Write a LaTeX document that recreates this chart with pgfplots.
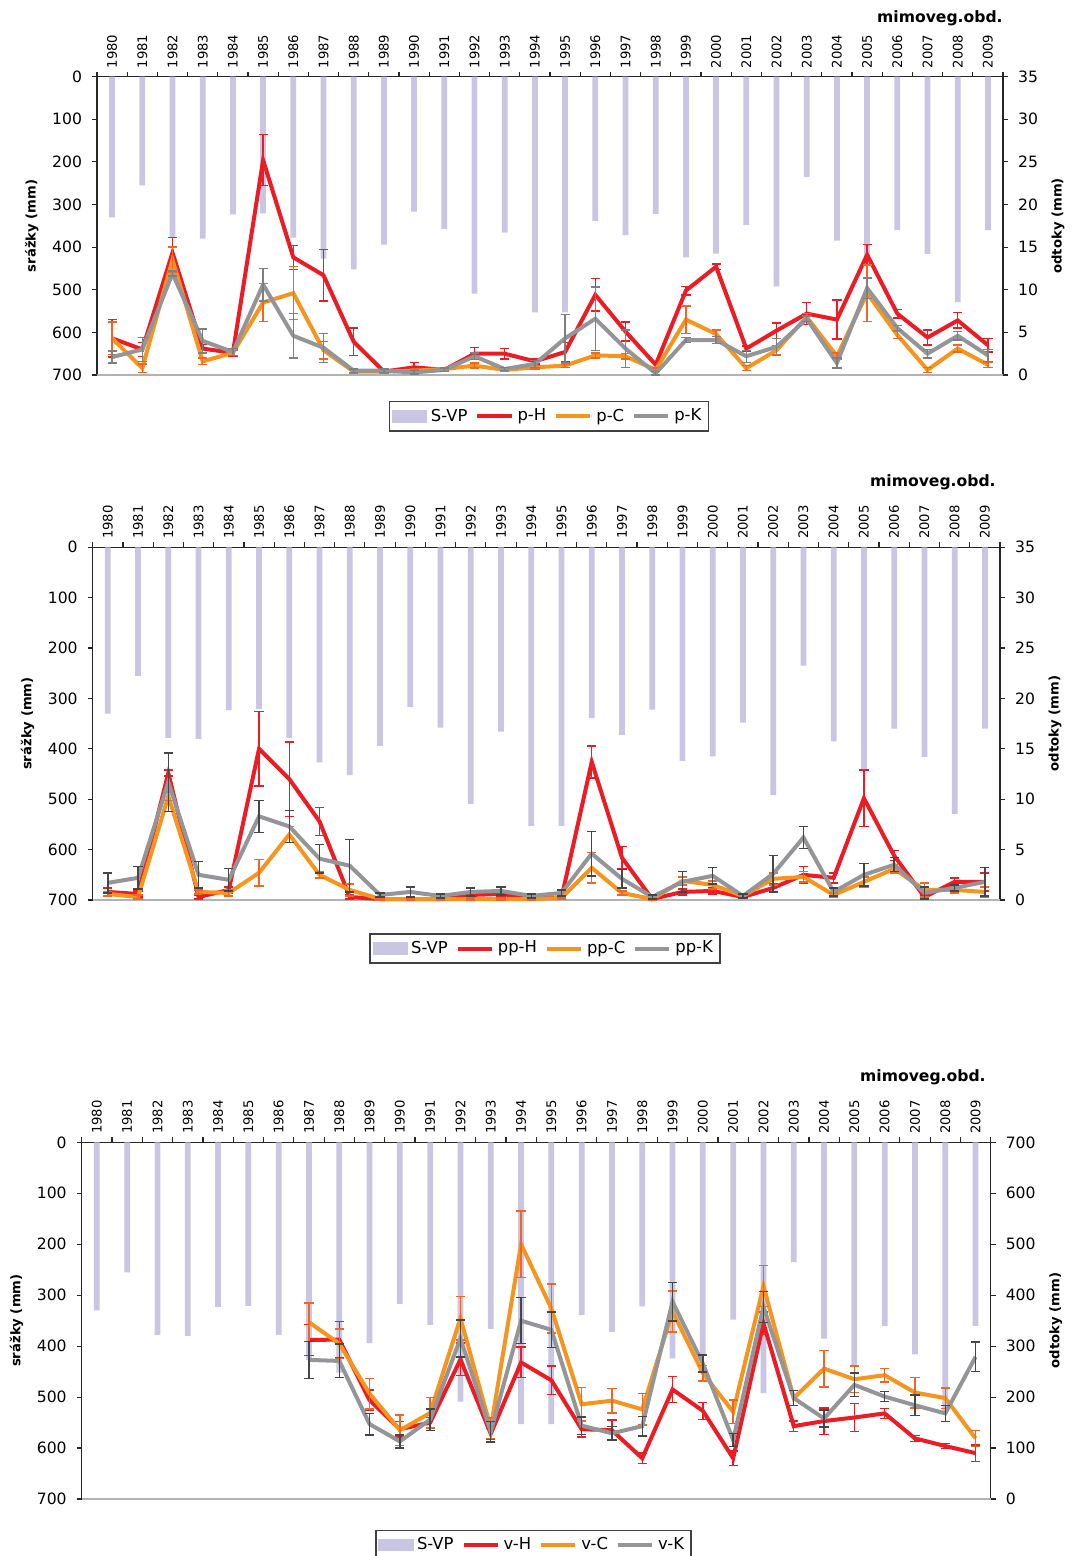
\documentclass[border=0pt]{standalone}
\usepackage{fontspec}
\setmainfont{DejaVu Sans}
\usepackage{pgfplots}
\usepackage{pgfplotstable}
\pgfplotsset{compat=1.18}
\definecolor{svp}{RGB}{200,198,227}
\definecolor{cH}{RGB}{237,28,36}
\definecolor{cC}{RGB}{247,148,29}
\definecolor{cK}{RGB}{147,149,152}
\definecolor{eC}{RGB}{242,101,34}
\definecolor{eK}{RGB}{70,70,70}
\newcommand\ticfont{\fontsize{7.8}{9}\selectfont}
\newcommand\yearfont{\fontsize{6.6}{7.5}\selectfont}
\newcommand\labfont{\fontsize{6.6}{7.5}\selectfont\bfseries}
\newcommand\mimofont{\fontsize{7.8}{9}\selectfont\bfseries}
\newcommand\legfont{\fontsize{8.2}{9.5}\selectfont}

\pgfplotstableread{
x v
0 330
1 255
2 378
3 380
4 323
5 321
6 378
7 427
8 452
9 394
10 317
11 358
12 509
13 366
14 553
15 553
16 339
17 372
18 322
19 424
20 415
21 348
22 492
23 235
24 385
25 441
26 360
27 416
28 529
29 360
}\svpdata

\pgfplotstableread{
x H eH C eC K eK
0 4.3 2.2 4.3 1.9 2.1 0.7
1 3.0 0.8 0.8 0.5 3.0 1.4
2 14.35 1.8 13.5 1.5 11.9 0.3
3 3.1 0.5 1.6 0.4 4.0 1.4
4 2.6 0.4 2.6 0.3 2.7 0.4
5 25.2 3.0 8.5 2.2 10.6 1.9
6 13.8 1.4 9.6 3.1 4.6 2.6
7 11.7 3.0 2.9 1.0 3.2 1.7
8 3.9 1.6 0.4 0.2 0.5 0.2
9 0.4 0.2 0.4 0.2 0.5 0.2
10 0.9 0.6 0.5 0.2 0.3 0.2
11 0.6 0.2 0.7 0.2 0.6 0.2
12 2.5 0.7 1.1 0.3 2.2 0.4
13 2.5 0.6 0.6 0.2 0.7 0.2
14 1.6 0.3 0.9 0.2 1.3 0.4
15 2.7 1.1 1.1 0.2 4.3 2.8
16 9.4 1.9 2.3 0.3 6.6 3.7
17 5.1 1.1 2.2 0.3 3.1 2.2
18 1.2 0.3 0.6 0.2 0.2 0.2
19 9.9 0.5 6.5 1.6 4.1 0.3
20 12.7 0.3 4.8 0.5 4.1 0.4
21 3.1 0.3 0.8 0.3 2.2 0.7
22 5.2 0.9 2.9 0.5 3.3 1.0
23 7.2 1.3 6.8 0.4 6.6 0.3
24 6.5 2.3 2.2 0.4 1.4 0.6
25 14.1 1.2 9.6 3.3 10.2 1.2
26 7.2 0.5 4.7 0.4 5.5 0.3
27 4.4 0.9 0.6 0.3 2.5 0.5
28 6.4 0.9 3.1 0.4 4.6 0.5
29 3.5 0.8 1.2 0.3 2.3 0.7
}\pdata

\pgfplotstableread{
x H eH C eC K eK
0 0.8 0.4 0.6 0.2 1.7 1.0
1 0.6 0.3 0.3 0.2 2.2 1.1
2 12.6 0.3 10.3 0.4 11.7 2.9
3 0.3 0.2 0.8 0.2 2.5 1.3
4 1.0 0.3 0.7 0.3 2.0 1.1
5 15.0 3.7 2.7 1.3 8.3 1.6
6 12.0 3.7 6.5 0.8 7.3 1.6
7 7.8 1.4 2.5 0.3 4.1 1.4
8 0.3 0.2 1.0 0.6 3.4 2.6
9 0.1 0.1 0.1 0.1 0.5 0.2
10 0.1 0.1 0.1 0.1 0.8 0.5
11 0.1 0.1 0.1 0.1 0.4 0.2
12 0.5 0.3 0.1 0.1 0.8 0.4
13 0.6 0.3 0.1 0.1 0.9 0.4
14 0.2 0.1 0.1 0.1 0.4 0.2
15 0.2 0.1 0.2 0.1 0.7 0.3
16 13.7 1.6 3.2 1.5 4.6 2.2
17 4.2 1.1 0.7 0.2 2.1 0.9
18 0.1 0.1 0.1 0.1 0.3 0.2
19 0.8 0.3 1.9 0.4 1.8 1.0
20 0.9 0.3 1.5 0.4 2.4 0.8
21 0.3 0.1 0.4 0.2 0.4 0.2
22 1.2 0.4 2.1 0.6 2.6 1.8
23 2.5 0.8 2.3 0.5 6.2 1.1
24 2.2 0.5 0.5 0.2 0.8 0.4
25 10.1 2.8 1.8 0.5 2.5 1.1
26 4.4 0.5 3.1 0.4 3.5 0.7
27 0.3 0.2 1.0 0.7 0.7 0.6
28 1.8 0.4 1.0 0.3 1.2 0.3
29 1.8 0.9 0.8 0.5 1.8 1.4
}\ppdata

\pgfplotstableread{
x H eH C eC K eK
7 312 30 347 38 273 36
8 313 35 305 29 271 33
9 194 20 207 30 147 21
10 137 15 135 30 113 13
11 150 10 169 30 156 21
12 274 32 355 43 315 36
13 128 10 139 20 132 20
14 268 30 500 65 350 45
15 233 28 374 48 332 35
16 137 15 186 33 144 17
17 135 20 193 24 129 13
18 80 10 176 31 143 19
19 215 26 368 40 387 38
20 173 17 247 15 266 17
21 80 14 171 23 116 13
22 345 22 418 40 377 30
23 143 10 198 15 198 15
24 153 26 256 36 158 17
25 160 28 235 26 224 23
26 168 10 243 13 201 10
27 119 6 209 30 184 20
28 104 5 198 20 168 16
29 90 16 119 16 279 29
}\vdata

\pgfplotsset{
  baraxis/.style={
    scale only axis, clip=false,
    xmin=-0.5, xmax=29.5, ymin=0, ymax=700, y dir=reverse,
    axis x line*=top, axis y line*=left,
    axis line style={-, black!85, line width=0.7pt},
    tick align=outside, major tick length=2.5pt,
    tick style={black!85, line width=0.6pt},
    xtick={-0.5,0.5,...,29.5}, xticklabels={},
    extra x ticks={0,1,...,29},
    extra x tick labels={1980,1981,1982,1983,1984,1985,1986,1987,1988,1989,1990,1991,1992,1993,1994,1995,1996,1997,1998,1999,2000,2001,2002,2003,2004,2005,2006,2007,2008,2009},
    extra x tick style={major tick style={draw=none}},
    xticklabel style={rotate=90, anchor=west, font=\yearfont, inner sep=1.5pt},
    ytick={0,100,...,700},
    yticklabel style={font=\ticfont, xshift=-1.5pt},
    /pgf/number format/assume math mode=true,
    ylabel={srážky (mm)}, ylabel style={font=\labfont},
  },
  lineaxis/.style={
    scale only axis, clip=false,
    xmin=-0.5, xmax=29.5, ymin=0,
    axis x line=none, axis y line*=right,
    axis line style={-, black!85, line width=0.7pt},
    tick align=outside, major tick length=2.5pt,
    tick style={black!85, line width=0.6pt},
    yticklabel style={font=\ticfont, xshift=1.5pt},
    /pgf/number format/assume math mode=true,
    ylabel={odtoky (mm)}, ylabel style={font=\labfont},
    legend columns=4,
    legend style={draw=black!75, line width=0.6pt, font=\legfont, inner sep=1.5pt,
      /tikz/every even column/.append style={column sep=2pt}},
    legend cell align=left,
  },
  ser/.style={line width=2pt, mark=none, forget plot,
    error bars/.cd, y dir=both, y explicit,
    error bar style={line width=0.7pt, color=#1},
    error mark options={rotate=90, line width=0.7pt, color=#1, mark size=2.3pt}},
}

\begin{document}
\begin{tikzpicture}
\useasboundingbox (0,0) rectangle (537pt,-778pt);

% ---------------- Panel 1 ----------------
\begin{axis}[baraxis, at={(48.5pt,-187.5pt)}, anchor=south west, width=453pt, height=149.2pt]
\addplot[ybar, bar width=0.19, fill=svp, draw=none] table[x=x, y=v] {\svpdata};
\end{axis}
\begin{axis}[lineaxis, at={(48.5pt,-187.5pt)}, anchor=south west, width=453pt, height=149.2pt,
  ymax=35, ytick={0,5,...,35},
  legend style={at={(0.499,-0.139)}, anchor=center}]
\draw[line width=1pt, black!30] (rel axis cs:0,0) -- (rel axis cs:1,0);
\addlegendimage{area legend, fill=svp, draw=svp, line width=0pt}\addlegendentry{S-VP}
\addlegendimage{cH, line width=2pt}\addlegendentry{p-H}
\addlegendimage{cC, line width=2pt}\addlegendentry{p-C}
\addlegendimage{cK, line width=2pt}\addlegendentry{p-K}
\addplot[cH, ser=cH] table[x=x, y=H, y error=eH] {\pdata};
\addplot[cC, ser=eC] table[x=x, y=C, y error=eC] {\pdata};
\addplot[cK, ser=cK!85!black] table[x=x, y=K, y error=eK] {\pdata};
\node[anchor=east, font=\mimofont, inner sep=0pt] at (rel axis cs:1,1.197) {mimoveg.obd.};
\end{axis}

% ---------------- Panel 2 ----------------
\begin{axis}[baraxis, at={(46.35pt,-450pt)}, anchor=south west, width=453.65pt, height=176.35pt]
\addplot[ybar, bar width=0.19, fill=svp, draw=none] table[x=x, y=v] {\svpdata};
\end{axis}
\begin{axis}[lineaxis, at={(46.35pt,-450pt)}, anchor=south west, width=453.65pt, height=176.35pt,
  ymax=35, ytick={0,5,...,35},
  legend style={at={(0.4985,-0.1375)}, anchor=center}]
\draw[line width=1pt, black!30] (rel axis cs:0,0) -- (rel axis cs:1,0);
\addlegendimage{area legend, fill=svp, draw=svp, line width=0pt}\addlegendentry{S-VP}
\addlegendimage{cH, line width=2pt}\addlegendentry{pp-H}
\addlegendimage{cC, line width=2pt}\addlegendentry{pp-C}
\addlegendimage{cK, line width=2pt}\addlegendentry{pp-K}
\addplot[cH, ser=cH] table[x=x, y=H, y error=eH] {\ppdata};
\addplot[cC, ser=eC] table[x=x, y=C, y error=eC] {\ppdata};
\addplot[cK, ser=eK] table[x=x, y=K, y error=eK] {\ppdata};
\node[anchor=east, font=\mimofont, inner sep=0pt] at (rel axis cs:0.9956,1.185) {mimoveg.obd.};
\end{axis}

% ---------------- Panel 3 ----------------
\begin{axis}[baraxis, at={(40.85pt,-749.5pt)}, anchor=south west, width=454.5pt, height=178.35pt]
\addplot[ybar, bar width=0.19, fill=svp, draw=none] table[x=x, y=v] {\svpdata};
\end{axis}
\begin{axis}[lineaxis, at={(40.85pt,-749.5pt)}, anchor=south west, width=454.5pt, height=178.35pt,
  ymax=700, ytick={0,100,...,700},
  legend style={at={(0.497,-0.129)}, anchor=center}]
\draw[line width=1pt, black!30] (rel axis cs:0,0) -- (rel axis cs:1,0);
\addlegendimage{area legend, fill=svp, draw=svp, line width=0pt}\addlegendentry{S-VP}
\addlegendimage{cH, line width=2pt}\addlegendentry{v-H}
\addlegendimage{cC, line width=2pt}\addlegendentry{v-C}
\addlegendimage{cK, line width=2pt}\addlegendentry{v-K}
\addplot[cH, ser=cH] table[x=x, y=H, y error=eH] {\vdata};
\addplot[cC, ser=eC] table[x=x, y=C, y error=eC] {\vdata};
\addplot[cK, ser=eK] table[x=x, y=K, y error=eK] {\vdata};
\node[anchor=east, font=\mimofont, inner sep=0pt] at (rel axis cs:0.9948,1.183) {mimoveg.obd.};
\end{axis}
\end{tikzpicture}
\end{document}
